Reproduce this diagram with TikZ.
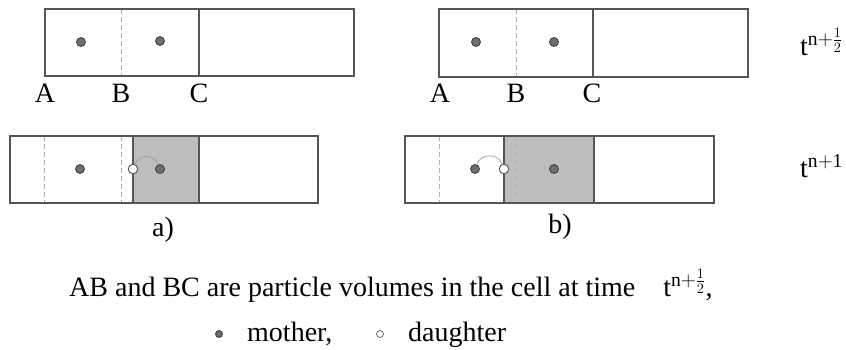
\documentclass[tikz,border=0pt]{standalone}
\usepackage{fontspec}
\setmainfont{Liberation Serif}
\usetikzlibrary{positioning}
\definecolor{boxline}{RGB}{85,85,85}
\definecolor{dashline}{RGB}{175,175,175}
\definecolor{cellgray}{RGB}{190,190,190}
\definecolor{dotfill}{RGB}{110,110,110}

\tikzset{
  cellbox/.style={draw=boxline, line width=1.1pt},
  split/.style={dashline, line width=1pt, dash pattern=on 5pt off 3pt},
  mother/.style={circle, draw=boxline!70!black, fill=dotfill, inner sep=0pt, minimum size=9pt, line width=0.8pt},
  daughter/.style={circle, draw=boxline, fill=white, inner sep=0pt, minimum size=9.5pt, line width=0.9pt},
  hop/.style={gray!80, line width=0.7pt},
  lbl/.style={font=\fontsize{28}{32}\selectfont, inner sep=0pt},
}

\begin{document}
\begin{tikzpicture}[x=1pt, y=-1pt]
  \useasboundingbox (0,0) rectangle (846,349);

  % time n+1/2, left
  \draw[split] (121,9) -- (121,76);
  \draw[cellbox] (45,9) rectangle (354,76);
  \draw[cellbox] (199,9) -- (199,76);
  \node[mother] (tlm1) at (81,42) {};
  \node[mother] (tlm2) at (160,41) {};
  \node[lbl, anchor=base] (tlA) at (45,102) {A};
  \node[lbl, anchor=base] (tlB) at (121,102) {B};
  \node[lbl, anchor=base] (tlC) at (199,102) {C};

  % time n+1/2, right
  \draw[split] (516,9) -- (516,77);
  \draw[cellbox] (439,9) rectangle (748,77);
  \draw[cellbox] (593,9) -- (593,77);
  \node[mother] (trm1) at (476,42) {};
  \node[mother] (trm2) at (554,42) {};
  \node[lbl, anchor=base] (trA) at (440,102) {A};
  \node[lbl, anchor=base] (trB) at (516,102) {B};
  \node[lbl, anchor=base] (trC) at (592,102) {C};
  \node[lbl, anchor=base west] (thalf) at (800,55) {t$^{\mathrm{n+}\frac{1}{2}}$};

  % time n+1, case a)
  \fill[cellgray] (133,136) rectangle (199,203);
  \draw[split] (44,136) -- (44,203);
  \draw[split] (121,136) -- (121,203);
  \draw[cellbox] (10,136) rectangle (318,203);
  \draw[cellbox] (133,136) -- (133,203);
  \draw[cellbox] (199,136) -- (199,203);
  \node[mother] (blm1) at (80,169) {};
  \node[daughter] (bld) at (133,169) {};
  \node[mother] (blm2) at (160,169) {};
  \draw[hop] (bld) to[out=70, in=110, looseness=1.2] (blm2);
  \node[lbl, anchor=base] (capa) at (163,236) {a)};

  % time n+1, case b)
  \fill[cellgray] (504,136) rectangle (594,203);
  \draw[split] (439,136) -- (439,203);
  \draw[split] (516,136) -- (516,203);
  \draw[cellbox] (405,136) rectangle (714,203);
  \draw[cellbox] (504,136) -- (504,203);
  \draw[cellbox] (594,136) -- (594,203);
  \node[mother] (brm1) at (475,169) {};
  \node[daughter] (brd) at (504,169) {};
  \node[mother] (brm2) at (554,169) {};
  \draw[hop] (brm1) to[out=70, in=110, looseness=1.2] (brd);
  \node[lbl, anchor=base] (capb) at (560,233) {b)};
  \node[lbl, anchor=base west] (tone) at (800,177) {t$^{\mathrm{n+1}}$};

  % caption and legend
  \node[lbl, anchor=base west] (note) at (69,296)
    {AB and BC are particle volumes in the cell at time\quad t$^{\mathrm{n+}\frac{1}{2}}$,};
  \node[mother, minimum size=7pt] (keym) at (219,334) {};
  \node[lbl, anchor=base west] (keymt) at (247,341) {mother,};
  \node[daughter, minimum size=7pt, line width=0.7pt] (keyd) at (380,334) {};
  \node[lbl, anchor=base west] (keydt) at (408,341) {daughter};
\end{tikzpicture}
\end{document}
